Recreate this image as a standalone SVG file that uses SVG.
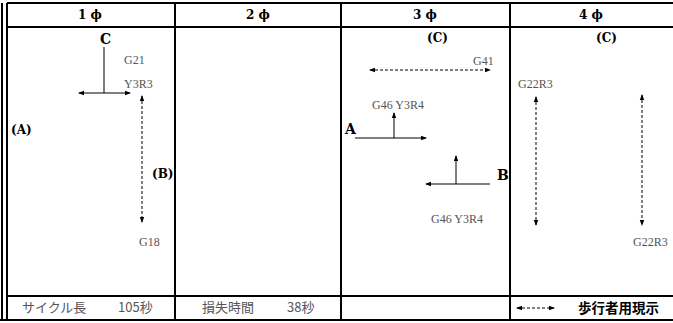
<svg xmlns="http://www.w3.org/2000/svg" width="673" height="323" viewBox="0 0 673 323">
<style>
.b{stroke:#000;stroke-width:2;fill:none}
.hd{font-family:"DejaVu Serif","Liberation Serif",serif;font-weight:bold;font-size:12px;fill:#000;text-anchor:middle}
.lb{font-family:"DejaVu Serif","Liberation Serif",serif;font-weight:bold;font-size:14px;fill:#000}
.sl{font-family:"DejaVu Serif","Liberation Serif",serif;font-weight:bold;font-size:12px;fill:#000}
.g{font-family:"Liberation Serif","DejaVu Serif",serif;font-size:12px;fill:#555}
.ft{font-family:"Noto Sans CJK JP",sans-serif;font-size:13px;fill:#555}
.lg{font-family:"Noto Sans CJK JP",sans-serif;font-weight:bold;font-size:13.5px;fill:#000}
.s{stroke:#000;stroke-width:1;fill:none}
.d{stroke:#000;stroke-width:1;fill:none;stroke-dasharray:3,2}
.v{stroke:#555;stroke-width:1.5;fill:none}
</style>
<defs>
<marker id="ah" viewBox="0 0 6 6" refX="5" refY="3" markerWidth="6" markerHeight="6" orient="auto-start-reverse" markerUnits="userSpaceOnUse"><path d="M0,0.8 L6,3 L0,5.2Z" fill="#000"/></marker>
</defs>
<g id="table">
<line class="b" x1="2" y1="3" x2="2" y2="320" stroke-width="1.5"/>
<line class="b" x1="7" y1="3" x2="7" y2="320"/>
<line class="b" x1="7" y1="3" x2="673" y2="3"/>
<line class="b" x1="7" y1="27" x2="673" y2="27"/>
<line class="b" x1="7" y1="296" x2="673" y2="296" stroke-width="1.5"/>
<line class="b" x1="0" y1="320" x2="673" y2="320"/>
<line class="b" x1="175" y1="3" x2="175" y2="320"/>
<line class="b" x1="341" y1="3" x2="341" y2="320"/>
<line class="b" x1="510" y1="3" x2="510" y2="320"/>
</g>
<g id="headers">
<text class="hd" x="90" y="19">1 ϕ</text>
<text class="hd" x="258" y="19">2 ϕ</text>
<text class="hd" x="425" y="19">3 ϕ</text>
<text class="hd" x="591" y="19">4 ϕ</text>
</g>
<g id="phase1">
<text class="lb" x="100" y="44">C</text>
<text class="g" x="124" y="64">G21</text>
<text class="g" x="124" y="88">Y3R3</text>
<text class="sl" x="11" y="134">(A)</text>
<text class="sl" x="152" y="178">(B)</text>
<text class="g" x="139" y="246">G18</text>
</g>
<g id="phase3">
<text class="sl" x="427" y="42">(C)</text>
<text class="g" x="473" y="65">G41</text>
<text class="g" x="372" y="109">G46 Y3R4</text>
<text class="lb" x="345" y="134">A</text>
<text class="lb" x="497" y="180">B</text>
<text class="g" x="431" y="223">G46  Y3R4</text>
</g>
<g id="phase4">
<text class="sl" x="596" y="42">(C)</text>
<text class="g" x="518" y="88">G22R3</text>
<text class="g" x="633" y="246">G22R3</text>
</g>
<g id="footer">
<text class="ft" x="22" y="312">サイクル長</text>
<text class="ft" x="118" y="312">105秒</text>
<text class="ft" x="202" y="312">損失時間</text>
<text class="ft" x="287" y="312">38秒</text>
<text class="lg" x="578" y="313">歩行者用現示</text>
</g>
<g id="connectors">
<line class="v" x1="104" y1="47" x2="104" y2="93"/>
<line class="s" x1="79" y1="93" x2="130" y2="93" marker-start="url(#ah)" marker-end="url(#ah)"/>
<line class="d" x1="142" y1="96" x2="142" y2="222" marker-start="url(#ah)" marker-end="url(#ah)"/>
<line class="d" x1="370" y1="70" x2="490" y2="70" marker-start="url(#ah)" marker-end="url(#ah)"/>
<line class="s" x1="355" y1="138" x2="426" y2="138" marker-end="url(#ah)"/>
<line class="s" x1="394" y1="138" x2="394" y2="113" marker-end="url(#ah)"/>
<line class="s" x1="490" y1="184" x2="426" y2="184" marker-end="url(#ah)"/>
<line class="s" x1="456" y1="184" x2="456" y2="156" marker-end="url(#ah)"/>
<line class="d" x1="536" y1="97" x2="536" y2="225" marker-start="url(#ah)" marker-end="url(#ah)"/>
<line class="d" x1="642" y1="95" x2="642" y2="225" marker-start="url(#ah)" marker-end="url(#ah)"/>
<line class="d" x1="517" y1="308" x2="554" y2="308" marker-start="url(#ah)" marker-end="url(#ah)"/>
</g>
</svg>
